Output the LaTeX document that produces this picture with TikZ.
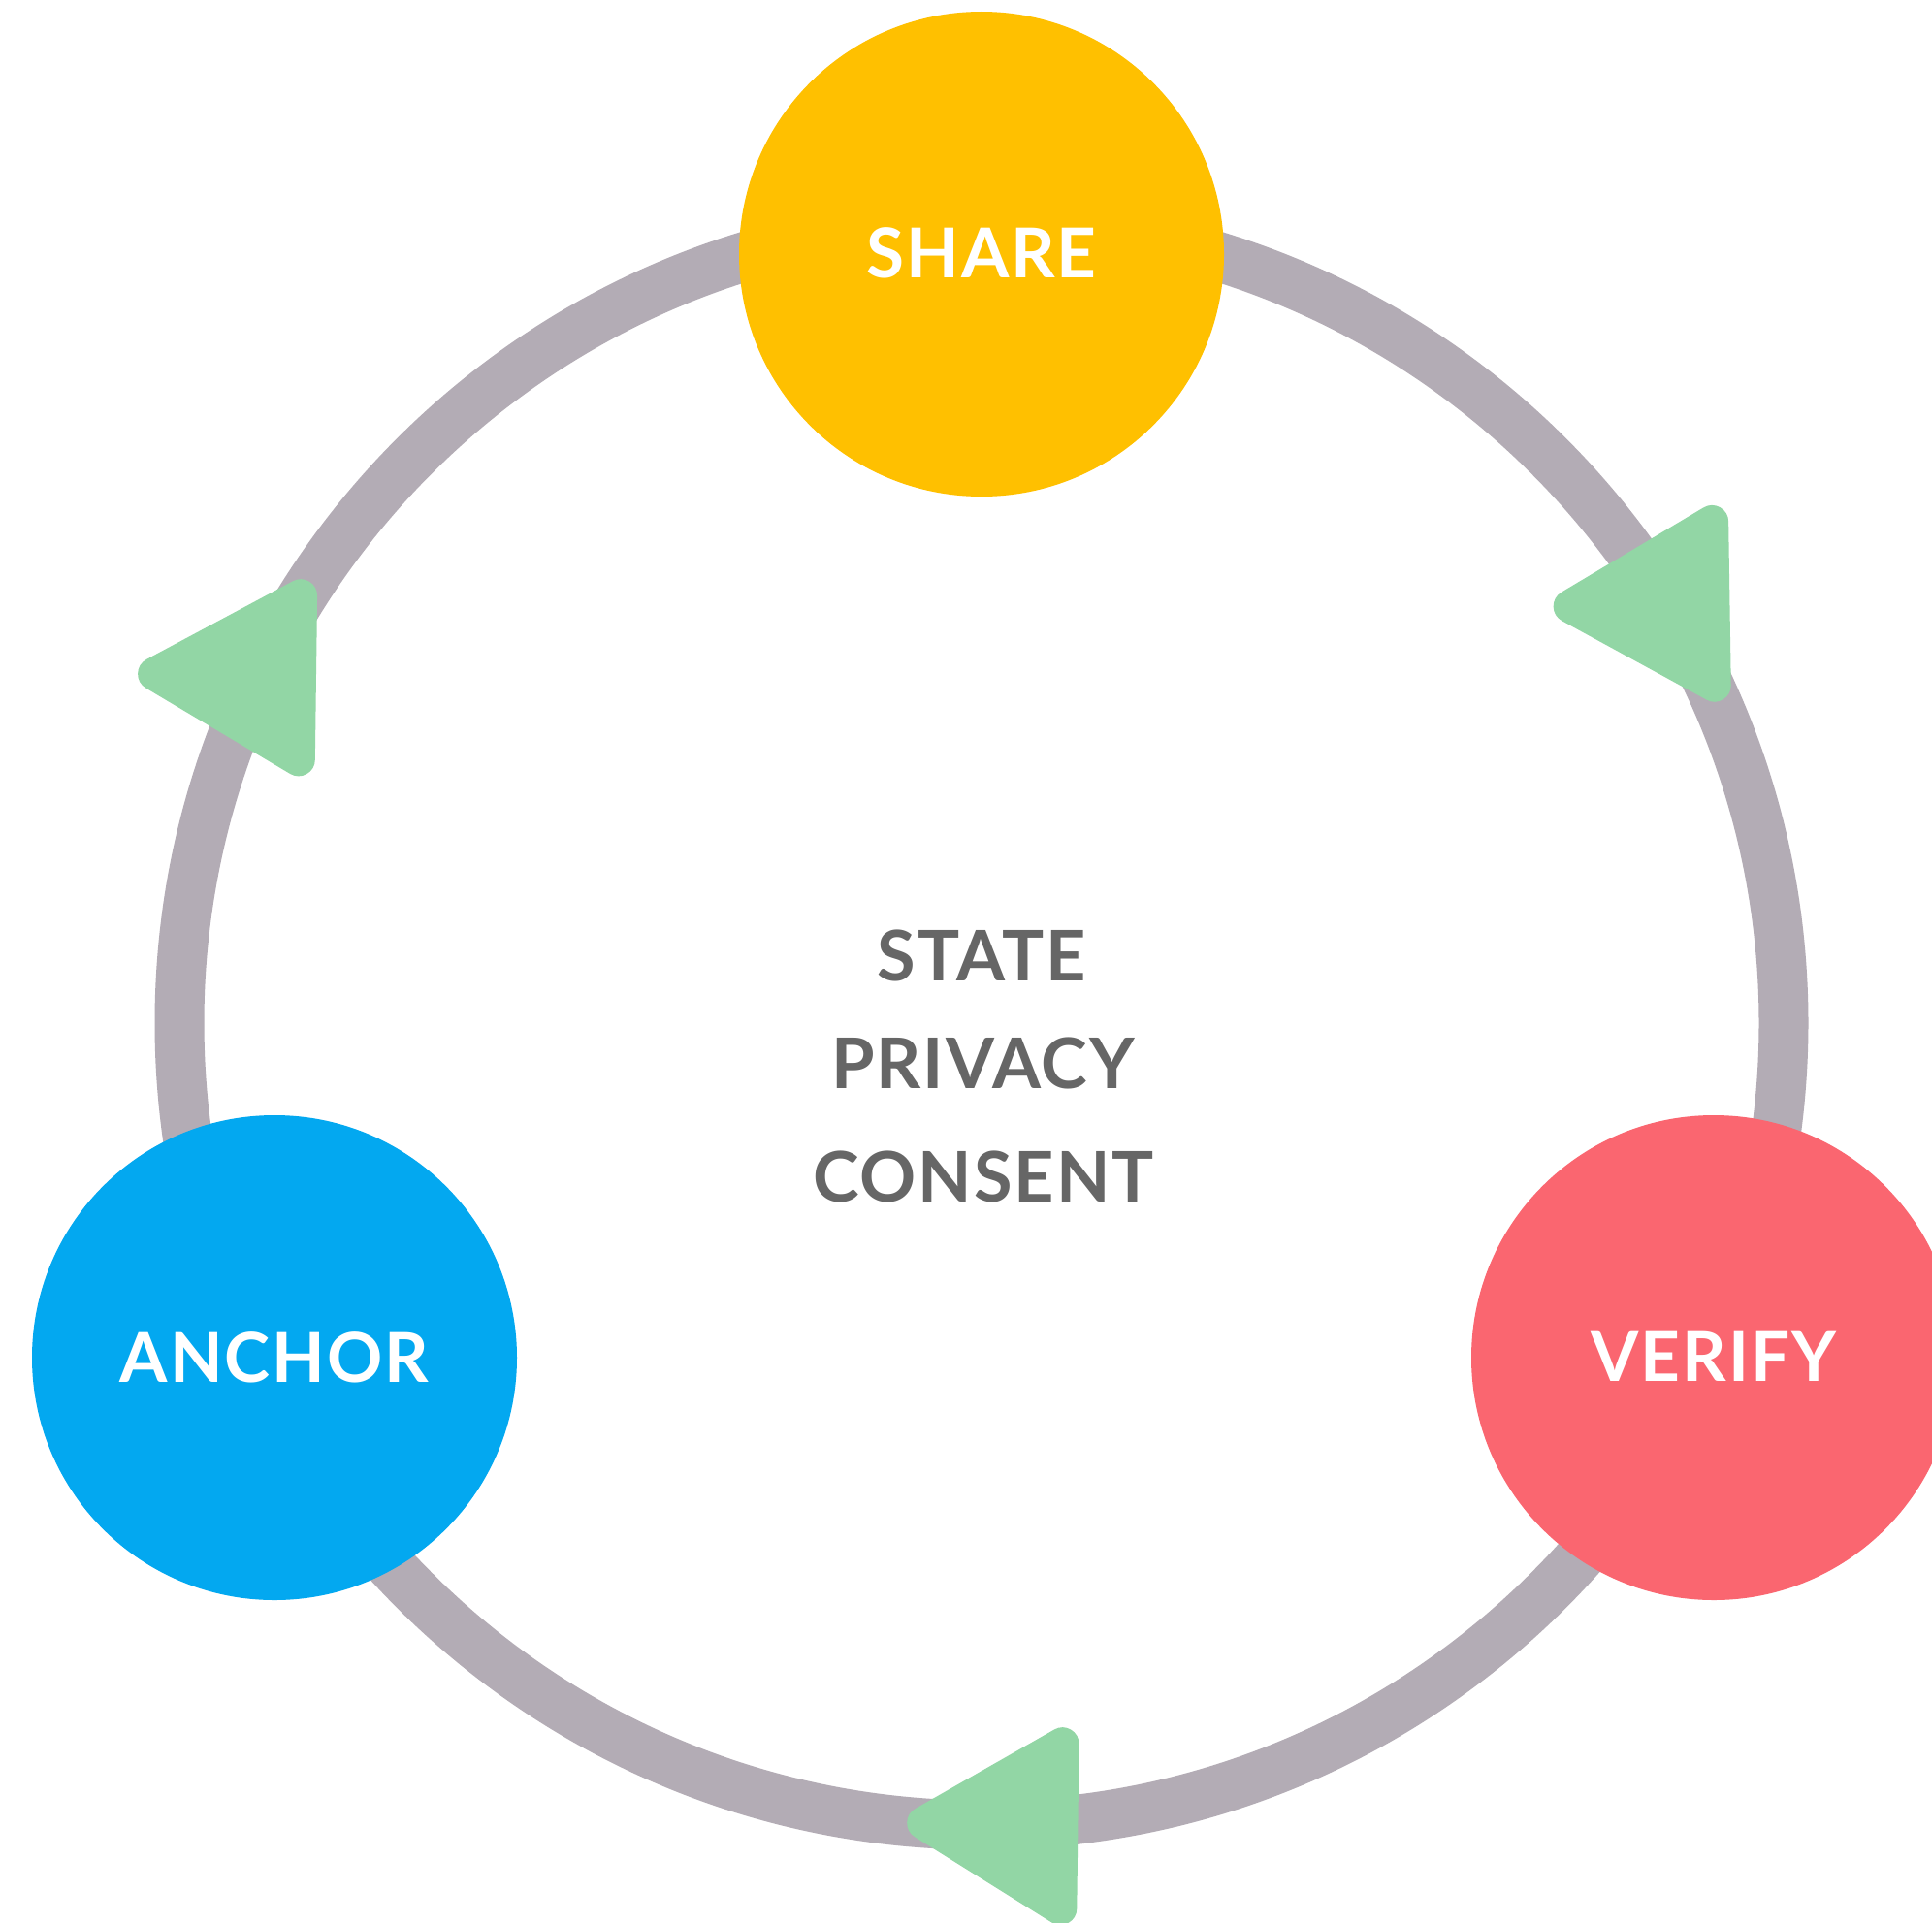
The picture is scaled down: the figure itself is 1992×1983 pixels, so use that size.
\documentclass[tikz,border=0pt]{standalone}
\usepackage{fontspec}
\setmainfont{Lato}[LetterSpace=2.8]
\usetikzlibrary{calc}
\definecolor{ringgray}{RGB}{179,172,181}
\definecolor{shareyellow}{RGB}{255,192,0}
\definecolor{anchorblue}{RGB}{3,168,240}
\definecolor{verifyred}{RGB}{250,102,112}
\definecolor{arrowgreen}{RGB}{146,214,165}
\definecolor{textgray}{RGB}{102,102,102}
\tikzset{
  stage/.style={circle, minimum size=500pt, inner sep=0pt, text=white, font=\fontsize{71}{71}\selectfont\bfseries},
  centertext/.style={inner sep=0pt, text=textgray, font=\fontsize{72}{72}\selectfont\bfseries},
  flowarrow/.style={fill=arrowgreen, draw=arrowgreen, line width=34pt, line join=round},
}
\begin{document}
\begin{tikzpicture}[x=1pt,y=-1pt]
\useasboundingbox (0,0) rectangle (1992,1983);
\fill[white] (0,0) rectangle (1992,1983);
% ring
\coordinate (c) at (1012,1055);
\draw[ringgray, line width=51pt] (c) circle[radius=827pt];
% stages
\node[stage, fill=shareyellow] (share) at (1012,262) {\raisebox{3pt}{SHARE}};
\node[stage, fill=anchorblue] (anchor) at (283,1400) {\raisebox{1.5pt}{ANCHOR}};
\node[stage, fill=verifyred] (verify) at (1767,1400) {\raisebox{1.5pt}{VERIFY}};
% arrows (rounded triangles)
\coordinate (g1) at (1717.2,623.3);
\coordinate (g2) at (259,697.5);
\coordinate (g3) at (1047,1882);
\filldraw[flowarrow] ($(g1)!0.74!(1584,626)$) -- ($(g1)!0.74!(1782,508)$) -- ($(g1)!0.74!(1785.5,736)$) -- cycle;
\filldraw[flowarrow] ($(g2)!0.74!(124,694)$) -- ($(g2)!0.74!(328,585)$) -- ($(g2)!0.74!(325,813.5)$) -- cycle;
\filldraw[flowarrow] ($(g3)!0.735!(918,1879)$) -- ($(g3)!0.735!(1113,1768)$) -- ($(g3)!0.735!(1110,1999)$) -- cycle;
% center text
\node[centertext] (state) at (1012.5,985) {STATE};
\node[centertext] (privacy) at (1013.5,1096) {PRIVACY};
\node[centertext] (consent) at (1014,1213.5) {CONSENT};
\end{tikzpicture}
\end{document}
